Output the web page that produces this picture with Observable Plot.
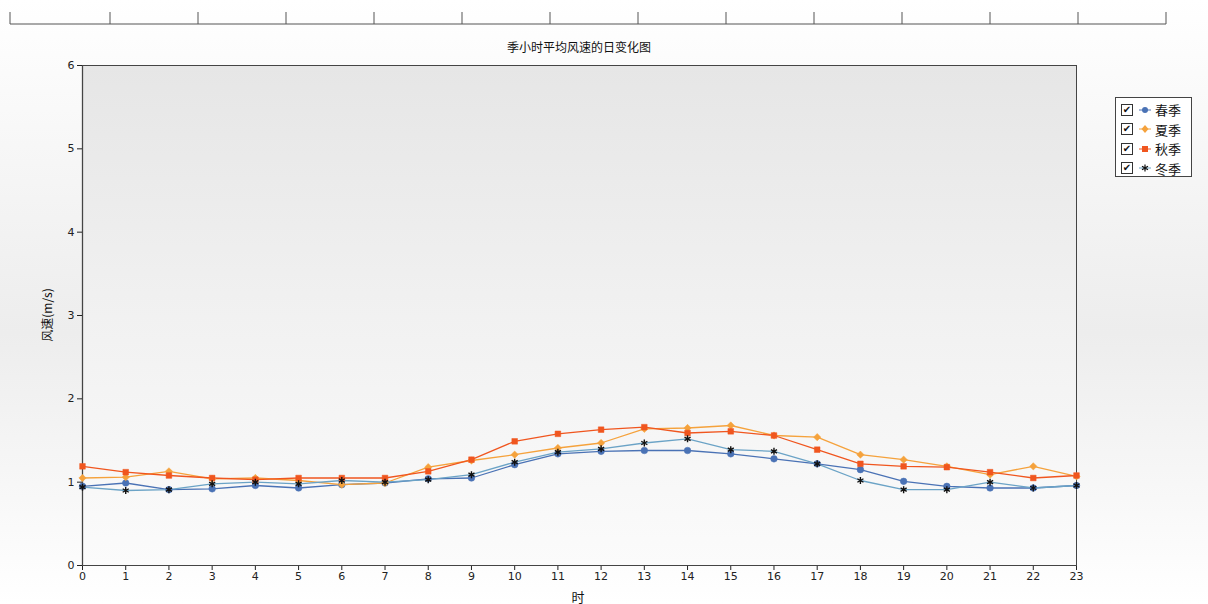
<!DOCTYPE html>
<html>
<head>
<meta charset="utf-8">
<script src="https://cdn.jsdelivr.net/npm/d3@7"></script>
<script src="https://cdn.jsdelivr.net/npm/@observablehq/plot@0.6"></script>
<style>
  html, body { margin: 0; padding: 0; }
  body { width: 1208px; height: 604px; position: relative; overflow: hidden;
         background: linear-gradient(to bottom, #ffffff 0%, #f0f0f0 45%, #ededed 55%, #ffffff 100%);
         font-family: "DejaVu Sans", "Noto Sans CJK SC", sans-serif; }
  #plotbg { position: absolute; left: 82px; top: 65px; width: 994px; height: 500px;
            background: linear-gradient(to bottom, #e6e6e6 0%, #f2f2f2 55%, #fbfbfb 100%); }
  #chart { position: absolute; left: 0; top: 0; }
  #strip { position: absolute; left: 0; top: 0; width: 1208px; height: 30px; }
  .abs { position: absolute; color: #111; white-space: nowrap; line-height: 1; }
  #title { left: 0; width: 1158px; text-align: center; top: 41px; font-size: 12px; font-family: "Noto Sans CJK SC", sans-serif; }
  #ylabel { left: 47px; top: 315px; transform: translate(-50%, -50%) rotate(-90deg); font-size: 12px; font-family: "Noto Sans CJK SC", sans-serif; }
  #xlabel { left: 578px; top: 596px; transform: translate(-50%, -50%); font-size: 13px; font-family: "Noto Sans CJK SC", sans-serif; }
  #legend { position: absolute; left: 1115px; top: 97px; width: 77px; height: 80px; background: #fff; border: 1px solid #444; box-sizing: border-box; padding-top: 2px; }
  .row { height: 19.5px; display: flex; align-items: center; font-family: "Noto Sans CJK SC", sans-serif; font-size: 13px; color: #111; }
  .cb { width: 10px; height: 10px; border: 1px solid #333; margin-left: 5px; margin-right: 4px; font-size: 10px; line-height: 10px; text-align: center; font-family: "DejaVu Sans"; background: #fff; }
</style>
</head>
<body>
<div id="strip"></div>
<div id="plotbg"></div>
<div id="chart"></div>
<div id="title" class="abs">季小时平均风速的日变化图</div>
<div id="ylabel" class="abs">风速(m/s)</div>
<div id="xlabel" class="abs">时</div>
<div id="legend"></div>
<script>
const hours = d3.range(0, 24);
const seriesNames = ["春季", "夏季", "秋季", "冬季"];
const spring = [0.95, 0.99, 0.91, 0.92, 0.96, 0.93, 0.97, 0.99, 1.04, 1.05, 1.21, 1.34, 1.37, 1.38, 1.38, 1.34, 1.28, 1.22, 1.15, 1.01, 0.95, 0.93, 0.93, 0.96];
const summer = [1.05, 1.06, 1.13, 1.04, 1.05, 1.02, 0.97, 0.99, 1.18, 1.26, 1.33, 1.41, 1.47, 1.64, 1.65, 1.68, 1.56, 1.54, 1.33, 1.27, 1.19, 1.09, 1.19, 1.07];
const autumn = [1.19, 1.12, 1.08, 1.05, 1.03, 1.05, 1.05, 1.05, 1.13, 1.27, 1.49, 1.58, 1.63, 1.66, 1.59, 1.61, 1.56, 1.39, 1.22, 1.19, 1.18, 1.12, 1.05, 1.08];
const winter = [0.94, 0.90, 0.91, 0.98, 1.00, 0.98, 1.02, 1.00, 1.03, 1.09, 1.24, 1.36, 1.40, 1.47, 1.52, 1.39, 1.37, 1.22, 1.02, 0.91, 0.91, 1.00, 0.93, 0.96];
const yTicks = [0, 1, 2, 3, 4, 5, 6];

const lineColors = ["#4a72b5", "#f5a23c", "#f0561f", "#6ba3c6"];
const dotColors = ["#4a72b5", "#f5a23c", "#f0561f", "#111111"];
const symbols = ["circle", "diamond2", "square2", "asterisk"];
const values = [spring, summer, autumn, winter];

const data = [];
seriesNames.forEach((s, i) => hours.forEach((h, j) => data.push({series: s, hour: h, v: values[i][j]})));

const marks = [
  Plot.axisY({ticks: yTicks, tickSize: 5, tickPadding: 3, label: null, fontSize: 11, color: "#222", tickFormat: d => String(d)}),
  Plot.axisX({ticks: hours, tickSize: 5, tickPadding: 2, label: null, fontSize: 11, color: "#222", tickFormat: d => String(d)}),
  Plot.ruleY([0], {stroke: "#000", strokeWidth: 1.2}),
  Plot.ruleX([0], {stroke: "#000", strokeWidth: 1.2}),
  Plot.frame({stroke: "#444", strokeWidth: 1})
];
seriesNames.forEach((s, i) => {
  const d = data.filter(r => r.series === s);
  marks.push(Plot.line(d, {x: "hour", y: "v", stroke: lineColors[i], strokeWidth: 1.3}));
});
seriesNames.forEach((s, i) => {
  const d = data.filter(r => r.series === s);
  marks.push(Plot.dot(d, {x: "hour", y: "v", symbol: () => symbols[i], fill: dotColors[i], stroke: dotColors[i], strokeWidth: symbols[i] === "asterisk" ? 1.4 : 0.5, r: symbols[i] === "square2" ? 3.6 : 3.3}));
});

const chart = Plot.plot({
  width: 1208,
  height: 604,
  marginLeft: 82,
  marginRight: 132,
  marginTop: 65,
  marginBottom: 39,
  style: {background: "transparent", fontFamily: "DejaVu Sans, sans-serif"},
  x: {domain: [0, 23]},
  y: {domain: [0, 6]},
  symbol: {type: "identity"},
  marks
});
document.getElementById("chart").appendChild(chart);

// legend
const legend = document.getElementById("legend");
const symSvg = {
  circle: c => `<circle cx="8" cy="6" r="3" fill="${c}"/>`,
  diamond2: c => `<path d="M8 2 L11.5 6 L8 10 L4.5 6Z" fill="${c}"/>`,
  square2: c => `<rect x="5" y="3" width="6" height="6" fill="${c}"/>`,
  asterisk: c => `<path d="M8 2.5V9.5M5 4.2L11 7.8M5 7.8L11 4.2" stroke="${c}" stroke-width="1.2"/>`
};
seriesNames.forEach((s, i) => {
  const row = document.createElement("div");
  row.className = "row";
  row.innerHTML = `<span class="cb">✔</span><svg width="16" height="12" style="margin-right:2px"><line x1="2" x2="14" y1="6" y2="6" stroke="${lineColors[i]}" stroke-width="1"/>${symSvg[symbols[i]](dotColors[i])}</svg><span>${s}</span>`;
  legend.appendChild(row);
});

// top strip (cropped table remnant)
const strip = d3.select("#strip").append("svg").attr("width", 1208).attr("height", 30);
const stripX = [10, 110, 198, 286, 374, 462, 550, 638, 726, 814, 902, 990, 1078, 1166];
strip.append("line").attr("x1", 10).attr("x2", 1166).attr("y1", 24).attr("y2", 24).attr("stroke", "#555");
strip.selectAll("line.v").data(stripX).join("line").attr("class", "v")
  .attr("x1", d => d).attr("x2", d => d).attr("y1", 12).attr("y2", 24).attr("stroke", "#555");
</script>
</body>
</html>
